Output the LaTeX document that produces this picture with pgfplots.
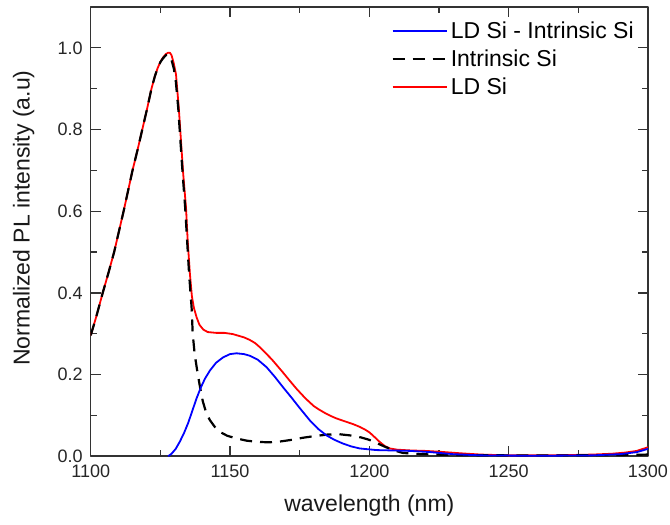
\documentclass[border=0pt]{standalone}
\usepackage{fontspec}
\setmainfont{Liberation Sans}
\usepackage{pgfplots}
\pgfplotsset{compat=1.18}
\usepackage{pgfplotstable}

\pgfplotstableread{
x y
1100 0.296
1102 0.342
1104.3 0.400
1106.4 0.450
1108.4 0.500
1110.1 0.550
1111.8 0.600
1113.4 0.650
1115 0.700
1116.8 0.750
1118.5 0.800
1120.2 0.850
1121.8 0.900
1123 0.930
1124 0.950
1125 0.966
1126 0.977
1127 0.985
1127.8 0.988
1128.4 0.988
1129 0.982
1129.8 0.962
1130.6 0.935
1131.6 0.853
1132.4 0.771
1133.2 0.690
1134.2 0.608
1134.8 0.527
1135.6 0.446
1136.3 0.392
1137 0.364
1138 0.340
1139 0.322
1140.4 0.310
1142 0.304
1145 0.302
1148 0.302
1151 0.299
1153 0.295
1155 0.291
1157 0.285
1159 0.277
1161 0.265
1163 0.251
1165 0.237
1167 0.221
1169 0.205
1171.4 0.185
1174 0.164
1177 0.142
1180 0.123
1182 0.114
1184 0.106
1186 0.099
1188 0.093
1190.5 0.087
1194 0.079
1196.5 0.072
1198.5 0.065
1200.1 0.058
1202 0.046
1203.7 0.035
1205.5 0.025
1207.3 0.019
1210 0.016
1215 0.014
1220 0.013
1225 0.011
1233 0.007
1240 0.004
1250 0.002
1260 0.002
1273 0.003
1280 0.004
1287 0.006
1292 0.009
1296 0.013
1300 0.022
}\ldsi

\pgfplotstableread{
x y
1100 0.296
1102 0.342
1104.3 0.400
1106.4 0.450
1108.4 0.500
1110.1 0.550
1111.8 0.600
1113.4 0.650
1115 0.700
1116.8 0.750
1118.5 0.800
1120.2 0.850
1121.8 0.900
1123 0.930
1124 0.950
1125 0.965
1126 0.975
1127 0.982
1127.6 0.983
1128.3 0.981
1129 0.970
1129.8 0.950
1130.5 0.920
1131.4 0.853
1132.2 0.771
1133 0.690
1133.9 0.608
1134.6 0.527
1135.3 0.446
1136.2 0.364
1136.6 0.300
1137.3 0.250
1138.2 0.210
1139.2 0.170
1140.2 0.135
1141.5 0.105
1142.8 0.088
1144.5 0.072
1146.5 0.059
1149 0.050
1152 0.044
1156 0.038
1160 0.035
1164 0.034
1168 0.036
1172 0.040
1176 0.045
1180 0.049
1185 0.053
1189 0.054
1193 0.051
1197 0.046
1200 0.040
1203 0.031
1206 0.022
1209 0.014
1212 0.008
1218 0.005
1230 0.003
1250 0.002
1270 0.002
1290 0.003
1300 0.004
}\intr

\pgfplotstableread{
x y
1127.8 0.000
1129 0.006
1130.5 0.018
1132 0.036
1133.5 0.057
1135 0.082
1136.5 0.112
1138 0.142
1139.5 0.168
1141 0.190
1142.8 0.210
1145 0.229
1147.5 0.242
1150 0.250
1152.3 0.252
1155 0.250
1157.1 0.246
1160 0.236
1163.1 0.218
1166 0.195
1169 0.169
1172 0.144
1175 0.118
1178.6 0.088
1181.6 0.067
1184.6 0.051
1187.5 0.040
1190.5 0.031
1193.5 0.024
1196.5 0.019
1202.5 0.015
1214.5 0.013
1222 0.010
1230 0.005
1240 0.002
1260 0.001
1280 0.002
1290 0.005
1296 0.010
1300 0.018
}\diff

\begin{document}
\begin{tikzpicture}
\begin{axis}[
  scale only axis, width=557pt, height=449pt,
  xmin=1100, xmax=1300, ymin=0, ymax=1.1,
  xtick={1100,1150,1200,1250,1300},
  ytick={0,0.2,0.4,0.6,0.8,1.0},
  minor x tick num=1, minor y tick num=1,
  tick align=inside,
  major tick length=10pt, minor tick length=6pt,
  every tick/.style={line width=1.3pt, black!80},
  axis line style={line width=1.5pt, black!80},
  /pgf/number format/assume math mode=true,
  ticklabel style={font=\fontsize{18}{20}\selectfont, text=black!85},
  xticklabel style={/pgf/number format/1000 sep={}, yshift=-5pt},
  yticklabel style={/pgf/number format/fixed, /pgf/number format/fixed zerofill, /pgf/number format/precision=1, xshift=-4.5pt},
  xlabel={wavelength (nm)},
  ylabel={Normalized PL intensity (a.u)},
  label style={font=\fontsize{23}{26}\selectfont, text=black!90},
  xlabel style={at={([yshift=-49pt]axis description cs:0.5,0)}, anchor=center},
  ylabel style={at={([xshift=-67pt]axis description cs:0,0.53)}, anchor=center},
  legend style={draw=none, fill=none, at={(rel axis cs:0.98,0.975)}, anchor=north east,
    font=\fontsize{23}{26}\selectfont, row sep=3pt, inner sep=0pt,
    nodes={inner sep=3pt, text height=17pt, text depth=2pt}},
  legend image code/.code={\draw[#1] (0pt,0pt) -- (54pt,0pt);},
  legend cell align=left,
  reverse legend,
  line join=round,
]
\addplot[red, line width=1.8pt] table[x=x,y=y] {\ldsi};
\addlegendentry{LD Si}
\addplot[black, line width=2.2pt, dash pattern=on 12pt off 8pt] table[x=x,y=y] {\intr};
\addlegendentry{Intrinsic Si}
\addplot[blue, line width=1.8pt] table[x=x,y=y] {\diff};
\addlegendentry{LD Si - Intrinsic Si}
\end{axis}
\pgfresetboundingbox
\path ([shift={(-90.7pt,-68pt)}]current axis.south west) rectangle ([shift={(22pt,7pt)}]current axis.north east);
\end{tikzpicture}
\end{document}
